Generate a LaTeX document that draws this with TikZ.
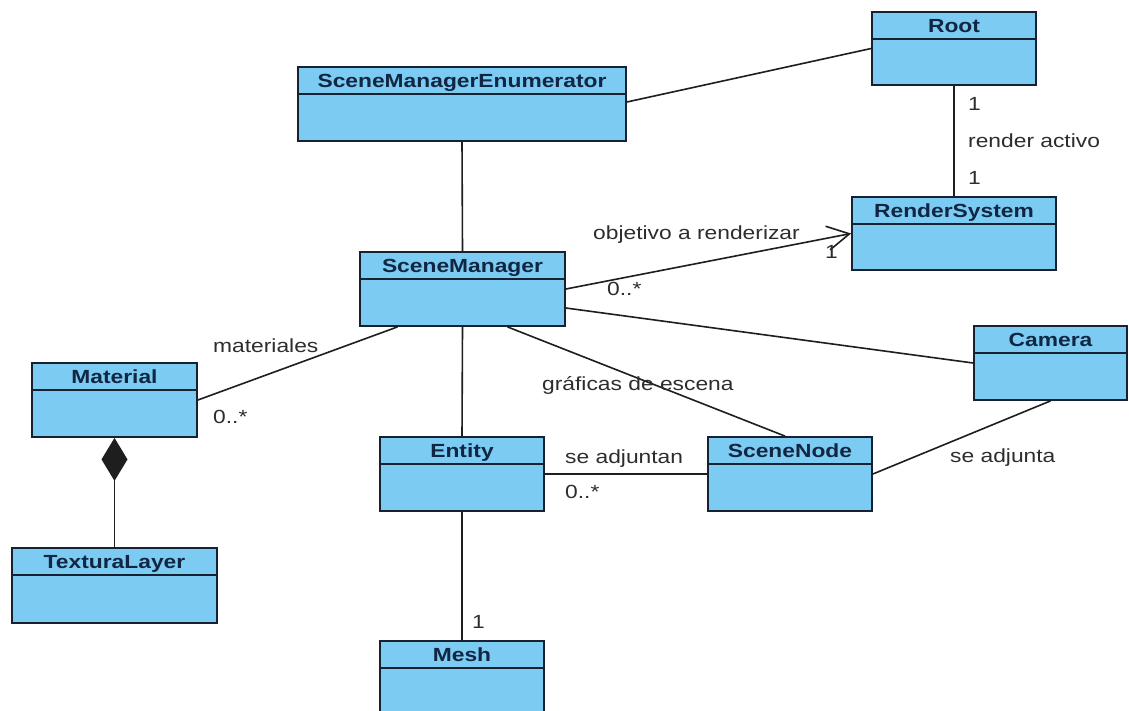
\documentclass[tikz,border=0pt]{standalone}
\usepackage{fontspec}
\setmainfont{Liberation Sans}[FakeStretch=1.2]
\usetikzlibrary{arrows.meta,fit}

\definecolor{classfill}{RGB}{124,203,243}
\definecolor{classline}{RGB}{22,34,50}
\definecolor{titleink}{RGB}{16,38,66}
\definecolor{labelink}{RGB}{45,45,45}
\definecolor{wireink}{RGB}{30,30,30}

\tikzset{
  cls/.style={draw=classline, fill=classfill, line width=1.8pt, inner sep=0pt},
  divider/.style={draw=classline, line width=1.6pt},
  ctitle/.style={font=\fontsize{19}{19}\selectfont\bfseries, text=titleink, anchor=base, inner sep=0pt},
  wire/.style={draw=wireink, line width=1.6pt},
  lbl/.style={font=\fontsize{19}{19}\selectfont, text=labelink, anchor=base west, inner sep=0pt},
}

% UML class box: name, left, top, right, bottom, title
\newcommand{\umlclass}[6]{%
  \node[cls, fit={(#2,#3) (#4,#5)}] (#1) {};
  \draw[divider] ([yshift=-28pt]#1.north west) -- ([yshift=-28pt]#1.north east);
  \node[ctitle] (#1-title) at ([yshift=-21pt]#1.north) {#6};
}

\begin{document}
\begin{tikzpicture}[x=1pt,y=-1pt]
\useasboundingbox (0,0) rectangle (1129,710);
\fill[white] (0,0) rectangle (1129,710);
\begin{scope}
\clip (0,0) rectangle (1129,710);

% classes
\umlclass{root}{872}{12}{1036}{85}{Root}
\umlclass{enum}{298}{67}{626}{141}{SceneManagerEnumerator}
\umlclass{rsys}{852}{197}{1056}{270}{RenderSystem}
\umlclass{sm}{360}{252}{565}{326}{SceneManager}
\umlclass{mat}{32}{363}{197}{437}{Material}
\umlclass{cam}{974}{326}{1127}{400}{Camera}
\umlclass{ent}{380}{437}{544}{511}{Entity}
\umlclass{snode}{708}{437}{872}{511}{SceneNode}
\umlclass{tex}{12}{548}{217}{623}{TexturaLayer}
\umlclass{mesh}{380}{641}{544}{725}{Mesh}

% associations
\draw[wire] ([yshift=2pt]enum.east) -- (root.west);
\draw[wire] (root.south) -- (rsys.north);
\draw[wire] (enum.south) -- (sm.north);
\draw[wire, -{Straight Barb[length=22pt,width=24pt]}] (sm.east) -- (rsys.west);
\draw[wire] ([yshift=-19pt]sm.east) -- (cam.west);
\draw[wire] ([xshift=45pt]sm.south) -- ([xshift=-5pt]snode.north);
\draw[wire] ([xshift=-65pt]sm.south) -- (mat.east);
\draw[wire] (sm.south) -- (ent.north);
\draw[wire] (ent.east) -- (snode.west);
\draw[wire] (ent.south) -- (mesh.north);
\draw[wire] (snode.east) -- (cam.south);
\draw[wire, {Diamond[length=43pt,width=26pt]}-] (mat.south) -- (tex.north);

% role names and multiplicities
\node[lbl] (l-root1) at (968,110) {1};
\node[lbl] (l-render) at (968,147) {render activo};
\node[lbl] (l-rsys1) at (968,184) {1};
\node[lbl] (l-obj) at (593,239) {objetivo a renderizar};
\node[lbl] (l-obj1) at (825,258) {1};
\node[lbl] (l-obj0) at (607,295) {0..*};
\node[lbl] (l-mat) at (213,352) {materiales};
\node[lbl] (l-mat0) at (213,423) {0..*};
\node[lbl] (l-graf) at (542,390) {gráficas de escena};
\node[lbl] (l-adj) at (565,463) {se adjuntan};
\node[lbl] (l-adj0) at (565,498) {0..*};
\node[lbl] (l-adjcam) at (950,462) {se adjunta};
\node[lbl] (l-mesh1) at (472,628) {1};
\end{scope}
\end{tikzpicture}
\end{document}
